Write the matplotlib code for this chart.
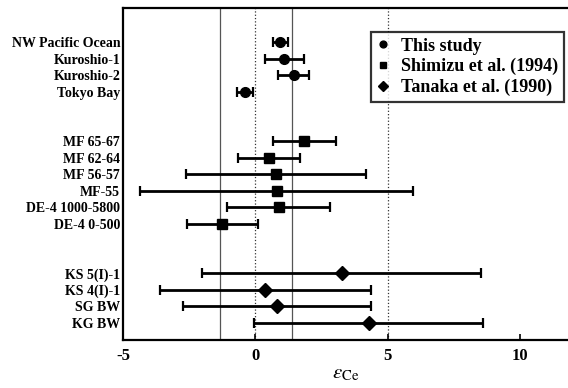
import matplotlib.pyplot as plt
import numpy as np

plt.rcParams['font.family'] = ['Liberation Serif', 'DejaVu Serif']
plt.rcParams['mathtext.fontset'] = 'stix'

# this study (circles)
labelsA = ['NW Pacific Ocean', 'Kuroshio-1', 'Kuroshio-2', 'Tokyo Bay']
valuesA = [0.95, 1.1, 1.45, -0.38]
errorsA = [0.3, 0.72, 0.58, 0.3]

# Shimizu et al. (1994) (squares)
labelsB = ['MF 65-67', 'MF 62-64', 'MF 56-57', 'MF-55', 'DE-4 1000-5800', 'DE-4 0-500']
valuesB = [1.85, 0.53, 0.78, 0.8, 0.88, -1.25]
errorsB = [1.2, 1.17, 3.4, 5.15, 1.95, 1.35]

# Tanaka et al. (1990) (diamonds)
labelsC = ['KS 5(I)-1', 'KS 4(I)-1', 'SG BW', 'KG BW']
valuesC = [3.26, 0.38, 0.8, 4.28]
errorsC = [5.28, 4.0, 3.55, 4.32]

rowsA = [0, 1, 2, 3]
rowsB = [6, 7, 8, 9, 10, 11]
rowsC = [14, 15, 16, 17]

refSolid = [-1.35, 1.4]
refDotted = [0, 5]

fig = plt.figure(figsize=(5.68, 3.88), dpi=100)
ax = fig.add_axes([0.2165, 0.124, 0.7835, 0.855])

for x in refSolid:
    ax.axvline(x, color='#555555', lw=0.9, zorder=1)
for x in refDotted:
    ax.axvline(x, color='#333333', lw=0.9, ls=':', zorder=1)

ebKw = dict(ls='none', color='black', ecolor='black', elinewidth=2.0, capsize=3.5, capthick=1.6, zorder=3)
ax.errorbar(valuesA, rowsA, xerr=errorsA, fmt='o', ms=7, label='This study', **ebKw)
ax.errorbar(valuesB, rowsB, xerr=errorsB, fmt='s', ms=7, label='Shimizu et al. (1994)', **ebKw)
ax.errorbar(valuesC, rowsC, xerr=errorsC, fmt='D', ms=7, label='Tanaka et al. (1990)', **ebKw)

ax.set_xlim(-5, 11.81)
ax.set_ylim(18.03, -2.06)
ax.set_xticks([-5, 0, 5, 10])
ax.set_xticklabels(['-5', '0', '5', '10'], fontsize=12, fontweight='bold')
ax.set_yticks(rowsA + rowsB + rowsC)
ax.set_yticklabels(labelsA + labelsB + labelsC, fontsize=10, fontweight='bold')
ax.tick_params(axis='y', length=0, pad=2)
ax.tick_params(axis='x', direction='in', length=4, width=1.2, pad=6)
ax.spines['right'].set_visible(False)
for side in ['left', 'top', 'bottom']:
    ax.spines[side].set_linewidth(1.6)

ax.set_xlabel(r'$\varepsilon_{\mathrm{Ce}}$', fontsize=15, labelpad=0)

handles, labels = ax.get_legend_handles_labels()
handles = [h[0] for h in handles]
leg = ax.legend(handles, labels, loc='upper left', bbox_to_anchor=(0.536, 0.955),
                prop={'size': 13, 'weight': 'bold'}, frameon=True, fancybox=False,
                handlelength=0.8, handletextpad=0.6, borderpad=0.3, labelspacing=0.2,
                markerscale=0.7)
leg.get_frame().set_edgecolor('black')
leg.get_frame().set_linewidth(1.6)

fig.savefig('out.png', dpi=100)
